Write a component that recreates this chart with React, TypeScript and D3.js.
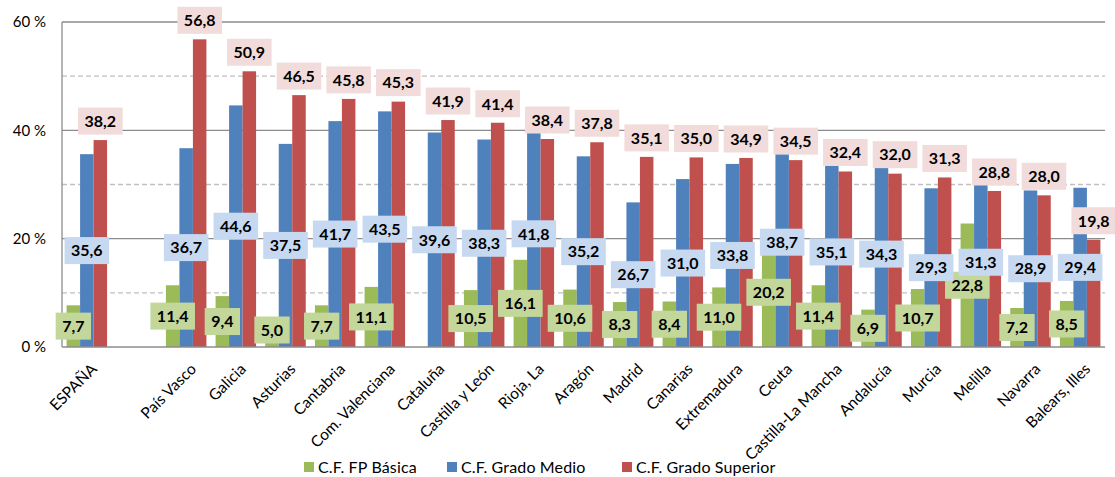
import React from "react";
import * as d3 from "d3";

const categories = [
  "ESPAÑA", " ", "País Vasco", "Galicia", "Asturias", "Cantabria", "Com. Valenciana",
  "Cataluña", "Castilla y León", "Rioja, La", "Aragón", "Madrid", "Canarias",
  "Extremadura", "Ceuta", "Castilla-La Mancha", "Andalucía", "Murcia", "Melilla",
  "Navarra", "Balears, Illes",
];
const fpBasica: (number | null)[] = [
  7.7, null, 11.4, 9.4, 5.0, 7.7, 11.1, null, 10.5, 16.1, 10.6, 8.3, 8.4, 11.0, 20.2,
  11.4, 6.9, 10.7, 22.8, 7.2, 8.5,
];
const gradoMedio: (number | null)[] = [
  35.6, null, 36.7, 44.6, 37.5, 41.7, 43.5, 39.6, 38.3, 41.8, 35.2, 26.7, 31.0, 33.8,
  38.7, 35.1, 34.3, 29.3, 31.3, 28.9, 29.4,
];
const gradoSuperior: (number | null)[] = [
  38.2, null, 56.8, 50.9, 46.5, 45.8, 45.3, 41.9, 41.4, 38.4, 37.8, 35.1, 35.0, 34.9,
  34.5, 32.4, 32.0, 31.3, 28.8, 28.0, 19.8,
];
const seriesNames = ["C.F. FP Básica", "C.F. Grado Medio", "C.F. Grado Superior"];
const yTicks = [0, 20, 40, 60];
const yMinor = [10, 30, 50];

const W = 1115;
const H = 477;
const FONT = "Lato, 'Open Sans', sans-serif";
const barColors = ["#9BBB59", "#4F81BD", "#C0504D"];
const boxColors = ["#C4D79B", "#C6D9F1", "#F2DCDB"];

let ctx: CanvasRenderingContext2D | null = null;
function textWidth(t: string, font: string) {
  if (!ctx) ctx = document.createElement("canvas").getContext("2d");
  if (!ctx) return t.length * 8;
  ctx.font = font;
  return ctx.measureText(t).width;
}
const fmt = (v: number) => v.toFixed(1).replace(".", ",");

export default function App() {
  const left = 62, right = 1105, top = 22, bottom = 347;
  const x = d3.scaleBand<string>().domain(categories).range([left, right]).paddingInner(0).paddingOuter(0);
  const xs = d3.scaleBand<string>().domain(seriesNames).range([0, x.bandwidth()]).paddingInner(0).paddingOuter(0.34);
  const y = d3.scaleLinear().domain([0, 60]).range([bottom, top]);
  const series = [fpBasica, gradoMedio, gradoSuperior];

  const labelFont = `bold 16px ${FONT}`;

  return (
    <svg width={W} height={H} style={{ position: "absolute", left: 0, top: 0, background: "#fff" }} fontFamily={FONT}>
      {/* gridlines */}
      {yMinor.map((t) => (
        <line key={"m" + t} x1={left} x2={right} y1={y(t)} y2={y(t)} stroke="#BFBFBF" strokeWidth={1.3} strokeDasharray="5,3" />
      ))}
      {yTicks.filter((t) => t > 0).map((t) => (
        <line key={"g" + t} x1={left} x2={right} y1={y(t)} y2={y(t)} stroke="#8C8C8C" strokeWidth={1.3} />
      ))}
      {/* bars */}
      {series.map((vals, si) =>
        vals.map((v, i) =>
          v == null ? null : (
            <rect
              key={`b${si}-${i}`}
              x={(x(categories[i]) as number) + (xs(seriesNames[si]) as number)}
              y={y(v)}
              width={xs.bandwidth()}
              height={y(0) - y(v)}
              fill={barColors[si]}
            />
          )
        )
      )}
      {/* axes */}
      <line x1={left} x2={left} y1={top} y2={bottom} stroke="#8C8C8C" strokeWidth={1.3} />
      <line x1={left} x2={right} y1={bottom} y2={bottom} stroke="#8C8C8C" strokeWidth={1.3} />
      {yTicks.map((t) => (
        <text key={"yt" + t} x={46} y={y(t)} dy="0.35em" textAnchor="end" fontSize={15} fill="#000">
          {t} %
        </text>
      ))}
      {categories.map((c, i) =>
        c.trim() === "" ? null : (
          <text
            key={"xl" + i}
            transform={`translate(${(x(c) as number) + x.bandwidth() / 2 + 11},${370}) rotate(-45)`}
            textAnchor="end"
            fontSize={15.5}
            fill="#000"
          >
            {c}
          </text>
        )
      )}
      {/* data labels */}
      {series.map((vals, si) =>
        vals.map((v, i) => {
          if (v == null) return null;
          const t = fmt(v);
          const bw = textWidth(t, labelFont) + 13;
          const bh = 27;
          const cx = (x(categories[i]) as number) + (xs(seriesNames[si]) as number) + xs.bandwidth() / 2;
          let cy: number;
          if (si === 2) cy = y(v) - 19;
          else cy = Math.min((y(v) + y(0)) / 2, 330);
          return (
            <g key={`l${si}-${i}`}>
              <rect x={cx - bw / 2} y={cy - bh / 2} width={bw} height={bh} fill={boxColors[si]} />
              <text x={cx} y={cy} dy="0.36em" textAnchor="middle" fontSize={16} fontWeight="bold" fill="#000">
                {t}
              </text>
            </g>
          );
        })
      )}
      {/* legend */}
      {seriesNames.map((s, i) => {
        const lx = [304, 447, 622][i];
        return (
          <g key={"lg" + i}>
            <rect x={lx} y={462} width={10} height={10} fill={barColors[i]} />
            <text x={lx + 14} y={467} dy="0.35em" fontSize={16} letterSpacing={0.15} fill="#000">
              {s}
            </text>
          </g>
        );
      })}
    </svg>
  );
}
